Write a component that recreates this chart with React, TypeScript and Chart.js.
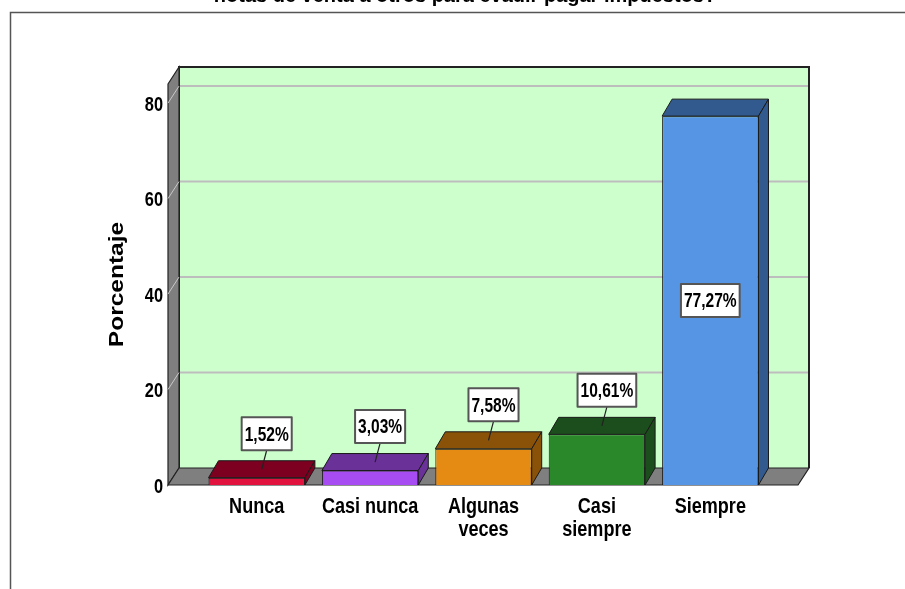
import React, { useEffect, useRef } from "react";
import { Chart, registerables } from "chart.js";

Chart.register(...registerables);

// Response categories and the share of answers for each one
const CATEGORIES: string[][] = [["Nunca"], ["Casi nunca"], ["Algunas", "veces"], ["Casi", "siempre"], ["Siempre"]];
const PERCENTAGES: number[] = [1.52, 3.03, 7.58, 10.61, 77.27];
const FRONT_COLORS: string[] = ["#E2123E", "#A64CF2", "#E58A12", "#2A872A", "#5595E4"];
const SHADE_COLORS: string[] = ["#7D0020", "#6A3198", "#8A5208", "#1C4D1C", "#325A8E"];
const Y_MAX = 84;
const Y_STEP = 20;
const TITLE_LINE = "notas de venta a otros para evadir pagar impuestos?";
const Y_TITLE = "Porcentaje";

const SANS = "'Liberation Sans', Arial, sans-serif";

// 3D depth of the floor/walls and of the bars
const WALL_DX = 11;
const WALL_DY = -17;
const BAR_DX = 10;
const BAR_DY = -17;
const FLOOR_PAD_LEFT = 32;
const FLOOR_PAD_RIGHT = 31;

const fmt = (v: number) => v.toFixed(2).replace(".", ",") + "%";

// condensed bold text: regular bold face squeezed horizontally
function narrowText(ctx: CanvasRenderingContext2D, text: string, x: number, y: number, size: number, sx: number, align: CanvasTextAlign) {
  ctx.save();
  ctx.translate(x, y);
  ctx.scale(sx, 1);
  ctx.font = `bold ${size}px ${SANS}`;
  ctx.textAlign = align;
  ctx.textBaseline = "middle";
  ctx.fillText(text, 0, 0);
  ctx.restore();
}

function narrowWidth(ctx: CanvasRenderingContext2D, text: string, size: number, sx: number) {
  ctx.save();
  ctx.font = `bold ${size}px ${SANS}`;
  const w = ctx.measureText(text).width * sx;
  ctx.restore();
  return w;
}

const stagePlugin = {
  id: "stage3d",
  beforeDraw(chart: any) {
    const { ctx, width } = chart;
    ctx.save();
    // outer frame
    ctx.strokeStyle = "#555";
    ctx.lineWidth = 1.5;
    ctx.beginPath();
    ctx.moveTo(10.5, chart.height + 2);
    ctx.lineTo(10.5, 12.5);
    ctx.lineTo(width + 2, 12.5);
    ctx.stroke();
    // remaining line of the title
    ctx.fillStyle = "#000";
    ctx.font = `bold 20px ${SANS}`;
    ctx.textAlign = "center";
    ctx.textBaseline = "alphabetic";
    ctx.fillText(TITLE_LINE, 465, 2);
    ctx.restore();
  },
  beforeDatasetsDraw(chart: any) {
    const { ctx, chartArea, scales } = chart;
    const y = scales.y;
    const left = chartArea.left - FLOOR_PAD_LEFT;
    const right = chartArea.right + FLOOR_PAD_RIGHT;
    const top = y.getPixelForValue(Y_MAX);
    const y0 = y.getPixelForValue(0);
    ctx.save();
    // back wall
    ctx.fillStyle = "#CCFFCC";
    ctx.fillRect(left + WALL_DX, top + WALL_DY, right - left, y0 - top);
    // grid lines on the back wall
    ctx.strokeStyle = "#BDBDBD";
    ctx.lineWidth = 2;
    y.ticks.forEach((t: any) => {
      if (t.value <= 0) return;
      const py = y.getPixelForValue(t.value) + WALL_DY;
      ctx.beginPath();
      ctx.moveTo(left + WALL_DX, py);
      ctx.lineTo(right + WALL_DX, py);
      ctx.stroke();
    });
    // back wall outline
    ctx.strokeStyle = "#222";
    ctx.lineWidth = 2;
    ctx.beginPath();
    ctx.moveTo(left + WALL_DX, y0 + WALL_DY);
    ctx.lineTo(left + WALL_DX, top + WALL_DY);
    ctx.lineTo(right + WALL_DX, top + WALL_DY);
    ctx.lineTo(right + WALL_DX, y0 + WALL_DY);
    ctx.stroke();
    // left side wall
    ctx.fillStyle = "#7F7F7F";
    ctx.strokeStyle = "#222";
    ctx.lineWidth = 1.2;
    ctx.beginPath();
    ctx.moveTo(left, top);
    ctx.lineTo(left + WALL_DX, top + WALL_DY);
    ctx.lineTo(left + WALL_DX, y0 + WALL_DY);
    ctx.lineTo(left, y0);
    ctx.closePath();
    ctx.fill();
    ctx.stroke();
    ctx.strokeStyle = "#C8C8C8";
    ctx.lineWidth = 1;
    y.ticks.forEach((t: any) => {
      if (t.value <= 0) return;
      const py = y.getPixelForValue(t.value);
      ctx.beginPath();
      ctx.moveTo(left, py);
      ctx.lineTo(left + WALL_DX, py + WALL_DY);
      ctx.stroke();
    });
    // floor
    ctx.fillStyle = "#7F7F7F";
    ctx.strokeStyle = "#222";
    ctx.lineWidth = 1.2;
    ctx.beginPath();
    ctx.moveTo(left, y0);
    ctx.lineTo(left + WALL_DX, y0 + WALL_DY);
    ctx.lineTo(right + WALL_DX, y0 + WALL_DY);
    ctx.lineTo(right, y0);
    ctx.closePath();
    ctx.fill();
    ctx.stroke();
    ctx.restore();
  },
  afterDatasetsDraw(chart: any) {
    const { ctx, chartArea, scales } = chart;
    const meta = chart.getDatasetMeta(0);
    ctx.save();
    ctx.lineJoin = "round";
    meta.data.forEach((bar: any, i: number) => {
      const { x, y, base, width } = bar.getProps(["x", "y", "base", "width"], true);
      const l = x - width / 2;
      const r = x + width / 2;
      ctx.fillStyle = SHADE_COLORS[i];
      ctx.strokeStyle = "#1a1a1a";
      ctx.lineWidth = 1;
      // top face
      ctx.beginPath();
      ctx.moveTo(l, y);
      ctx.lineTo(l + BAR_DX, y + BAR_DY);
      ctx.lineTo(r + BAR_DX, y + BAR_DY);
      ctx.lineTo(r, y);
      ctx.closePath();
      ctx.fill();
      ctx.stroke();
      // side face
      ctx.beginPath();
      ctx.moveTo(r, y);
      ctx.lineTo(r + BAR_DX, y + BAR_DY);
      ctx.lineTo(r + BAR_DX, base + BAR_DY);
      ctx.lineTo(r, base);
      ctx.closePath();
      ctx.fill();
      ctx.stroke();
    });

    // value labels
    ctx.fillStyle = "#000";
    meta.data.forEach((bar: any, i: number) => {
      const { x, y, base } = bar.getProps(["x", "y", "base"], true);
      const text = fmt(PERCENTAGES[i]);
      const w = narrowWidth(ctx, text, 21, 0.74) + 6;
      const h = 33;
      const inside = base - y > h + 30;
      let cx: number;
      let cy: number;
      if (inside) {
        cx = x;
        cy = (y + base) / 2;
      } else {
        cx = x + 10;
        cy = y - 44;
        ctx.strokeStyle = "#222";
        ctx.lineWidth = 1.2;
        ctx.beginPath();
        ctx.moveTo(cx, cy + h / 2);
        ctx.lineTo(x + BAR_DX / 2, y + BAR_DY / 2);
        ctx.stroke();
      }
      ctx.fillStyle = "#FFFFFF";
      ctx.fillRect(cx - w / 2, cy - h / 2, w, h);
      ctx.strokeStyle = "#555";
      ctx.lineWidth = 2;
      ctx.strokeRect(cx - w / 2, cy - h / 2, w, h);
      ctx.fillStyle = "#000";
      narrowText(ctx, text, cx, cy + 1, 21, 0.74, "center");
    });

    // axis labels, placed from the scales' ticks
    const xs = scales.x;
    const ys = scales.y;
    ctx.fillStyle = "#000";
    CATEGORIES.forEach((lines, i) => {
      const px = xs.getPixelForTick(i);
      lines.forEach((line, k) => {
        narrowText(ctx, line, px, chartArea.bottom + 22 + k * 23, 21.5, 0.84, "center");
      });
    });
    ys.ticks.forEach((t: any) => {
      narrowText(ctx, String(t.value), chartArea.left - 37, ys.getPixelForValue(t.value) + 2, 21, 0.78, "right");
    });
    // rotated axis title
    ctx.save();
    ctx.translate(117, (chartArea.top + chartArea.bottom) / 2);
    ctx.rotate(-Math.PI / 2);
    ctx.scale(1, 0.82);
    ctx.font = `bold 24.5px ${SANS}`;
    ctx.textAlign = "center";
    ctx.textBaseline = "middle";
    ctx.fillText(Y_TITLE, 0, 0);
    ctx.restore();

    ctx.restore();
  },
};

export default function App() {
  const ref = useRef<HTMLCanvasElement | null>(null);

  useEffect(() => {
    if (!ref.current) return;
    const chart = new Chart(ref.current, {
      type: "bar",
      data: {
        labels: CATEGORIES,
        datasets: [
          {
            data: PERCENTAGES,
            backgroundColor: FRONT_COLORS,
            borderColor: "#1a1a1a",
            borderWidth: 1,
            barPercentage: 0.85,
            categoryPercentage: 1,
          },
        ],
      },
      options: {
        animation: false,
        responsive: false,
        devicePixelRatio: 1,
        layout: { padding: { left: 105, right: 138, top: 84, bottom: 0 } },
        plugins: {
          legend: { display: false },
          tooltip: { enabled: false },
          title: { display: false },
        },
        scales: {
          x: {
            grid: { display: false, drawTicks: false },
            border: { display: false },
            ticks: { display: false, autoSkip: false },
            afterFit: (s: any) => {
              s.height = 104;
            },
          },
          y: {
            min: 0,
            max: Y_MAX,
            grid: { display: false, drawTicks: false },
            border: { display: false },
            ticks: { display: false, stepSize: Y_STEP, includeBounds: false },
            afterFit: (s: any) => {
              s.width = 200 - 105;
            },
          },
        },
      },
      plugins: [stagePlugin],
    });
    return () => chart.destroy();
  }, []);

  return (
    <div style={{ position: "fixed", left: 0, top: 0, width: 905, height: 589, background: "#fff" }}>
      <canvas ref={ref} width={905} height={589} style={{ display: "block" }} />
    </div>
  );
}
